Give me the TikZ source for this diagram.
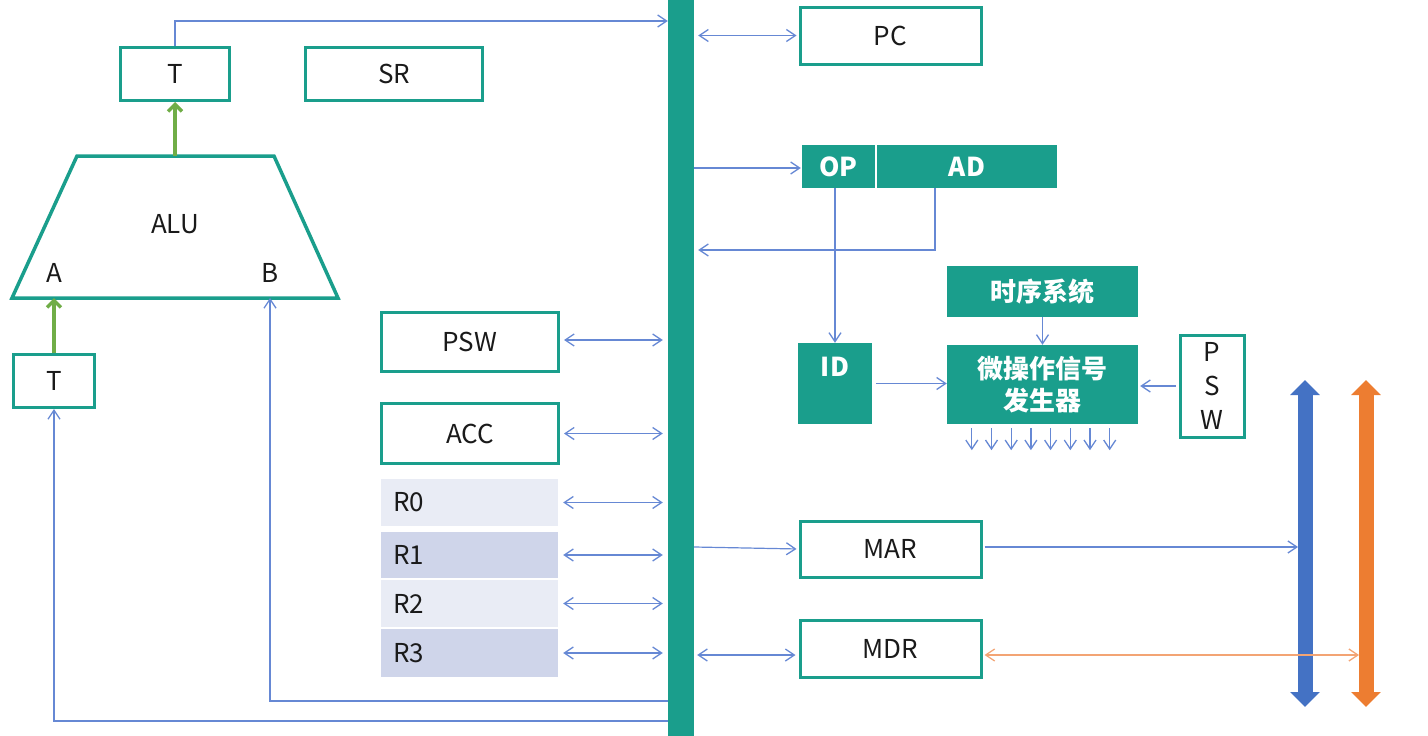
\documentclass[tikz,border=0pt]{standalone}
\usepackage{fontspec}
\setmainfont{Noto Sans CJK SC}
\usetikzlibrary{arrows.meta,calc}
\definecolor{tl}{HTML}{1A9E8C}
\definecolor{thinblue}{HTML}{6688D4}
\definecolor{bblue}{HTML}{4472C4}
\definecolor{borange}{HTML}{ED7D31}
\definecolor{thinorange}{HTML}{F3A474}
\definecolor{grn}{HTML}{70AD47}
\definecolor{rlight}{HTML}{E9ECF5}
\definecolor{rdark}{HTML}{CFD5EA}
\definecolor{txt}{HTML}{1A1A1A}
\tikzset{
  barb/.tip={Straight Barb[length=9pt,width=12pt,line width=1.3pt]},
  tb/.style={draw=thinblue, line width=1.2pt, -barb},
  tbb/.style={draw=thinblue, line width=1.2pt, barb-barb},
  gr/.style={draw=grn, line width=3.5pt, -{Straight Barb[length=7pt,width=14pt,line width=3.5pt]}},
  obox/.style={draw=tl, line width=3pt, fill=white, text=txt, minimum width=#1},
  fbox/.style={fill=tl, text=white, font=\fontsize{26}{34}\selectfont\bfseries, minimum width=#1, align=center},
  rbox/.style={fill=#1, text=txt, minimum width=177pt, text width=153pt, align=left, inner xsep=12pt},
  bigarrow/.style={line width=15pt, draw=#1, {Triangle[length=15pt,width=29pt]}-{Triangle[length=15pt,width=29pt]}},
}
\begin{document}
\begin{tikzpicture}[x=1pt,y=-1pt,
  every node/.style={font=\fontsize{26}{34}\selectfont, text=txt, inner sep=0pt}]
\useasboundingbox (0,0) rectangle (1428,736);

% bus
\node[fill=tl, minimum width=26pt, minimum height=736pt] (bus) at (681,368) {};

% left side boxes
\node[obox=109pt, minimum height=53pt] (Tt) at (175,74) {T};
\node[obox=177pt, minimum height=53pt] (SR) at (394,74) {SR};
\node[obox=81pt, minimum height=53pt] (Tb) at (54,381) {T};

% ALU
\draw[draw=tl, line width=3.5pt, line join=miter] (77,156) -- (274,156) -- (338,298) -- (12,298) -- cycle;
\coordinate (aluTop) at (175,156);
\coordinate (aluA) at (54,298);
\coordinate (aluB) at (270,298);
\node (alu) at (175,224) {ALU};
\node (la) at (54,273) {A};
\node (lb) at (270,273) {B};

% registers
\node[obox=177pt, minimum height=59pt] (psw) at (470,342) {PSW};
\node[obox=177pt, minimum height=60pt] (acc) at (470,433.5) {ACC};
\node[rbox=rlight, minimum height=47pt] (r0) at (469.5,502.5) {R0};
\node[rbox=rdark, minimum height=46pt] (r1) at (469.5,555) {R1};
\node[rbox=rlight, minimum height=47pt] (r2) at (469.5,603.5) {R2};
\node[rbox=rdark, minimum height=48pt] (r3) at (469.5,653) {R3};

% right side
\node[obox=181pt, minimum height=57pt] (pc) at (890.5,35.5) {PC};
\node[fbox=73pt, minimum height=43pt] (op) at (838.5,166.5) {OP};
\node[fbox=180pt, minimum height=43pt] (ad) at (967,166.5) {AD};
\node[fill=tl, minimum width=74pt, minimum height=81pt,
  label={[anchor=north, text=white, font=\fontsize{26}{34}\selectfont\bfseries, yshift=-14pt]north:ID}] (id) at (835,383.5) {};
\node[fbox=191pt, minimum height=51pt] (ts) at (1042.5,291.5) {时序系统};
\node[fbox=191pt, minimum height=79pt] (mop) at (1042.5,384.5) {微操作信号\\[-2pt]发生器};
\node[obox=64pt, minimum height=102pt, align=center, font=\fontsize{26}{34}\selectfont] (pswv) at (1212,386) {P\\S\\W};
\node[obox=181pt, minimum height=56pt] (mar) at (890.5,549) {MAR};
\node[obox=181pt, minimum height=57pt] (mdr) at (890.5,648.5) {MDR};

% system bus arrows
\coordinate (bb1) at (1305,380);
\coordinate (bb2) at (1305,707);
\coordinate (ob1) at (1366,380);
\coordinate (ob2) at (1366,707);
\draw[bigarrow=bblue] (bb1) -- (bb2);
\draw[bigarrow=borange] (ob1) -- (ob2);

% green arrows
\draw[gr] (aluTop) -- (Tt.south);
\draw[gr] (Tb.north) -- (aluA);

% blue connectors
\draw[tb] (Tt.north) |- ($(bus.west |- 0,21)$);
\draw[tb] ($(bus.west |- 0,721)$) -| (Tb.south);
\draw[tb] ($(bus.west |- 0,701)$) -| (aluB);
\draw[tbb, shorten <=4pt, shorten >=5pt] ([yshift=2pt]psw.east) -- ([yshift=2pt]bus.west |- psw.east);
\draw[tbb, shorten <=4pt, shorten >=5pt] (acc.east) -- (bus.west |- acc.east);
\foreach \r in {r0,r1,r2,r3}
  \draw[tbb, shorten <=5pt, shorten >=5pt] (\r.east) -- (bus.west |- \r.east);
\draw[tbb, shorten <=4pt, shorten >=2pt] (bus.east |- pc.west) -- (pc.west);
\draw[tb, shorten >=1pt] ($(bus.east |- 0,168)$) -- (op.west |- 0,168);
\draw[tb, shorten >=4pt] ([xshift=-32pt]ad.south) |- ($(bus.east |- 0,250)$);
\draw[tb] (id.north |- op.south) -- (id.north);
\draw[tb] (ts.south) -- (mop.north);
\draw[tb, shorten <=4pt] (id.east) -- (mop.west |- id.east);
\draw[tb, shorten <=3pt, shorten >=2pt] (pswv.west) -- (mop.east |- pswv.west);
\foreach \i in {0,...,7}
  \draw[tb] ($(mop.south west)+(25+19.7*\i,4)$) -- ++(0,22);
\draw[tb, shorten >=2pt] ($(bus.east |- 0,547)$) -- (mar.west);
\draw[tb, shorten <=2pt, shorten >=7pt] ([yshift=2pt]mar.east) -- ([yshift=2pt]mar.east -| bb1);
\draw[tbb, shorten <=3pt, shorten >=3pt] ([yshift=-6.5pt]bus.east |- mdr.west) -- ([yshift=-6.5pt]mdr.west);
\draw[draw=thinorange, line width=1.3pt, barb-barb, shorten <=2pt, shorten >=7pt] ([yshift=-6.5pt]mdr.east) -- ([yshift=-6.5pt]mdr.east -| ob1);
\end{tikzpicture}
\end{document}
